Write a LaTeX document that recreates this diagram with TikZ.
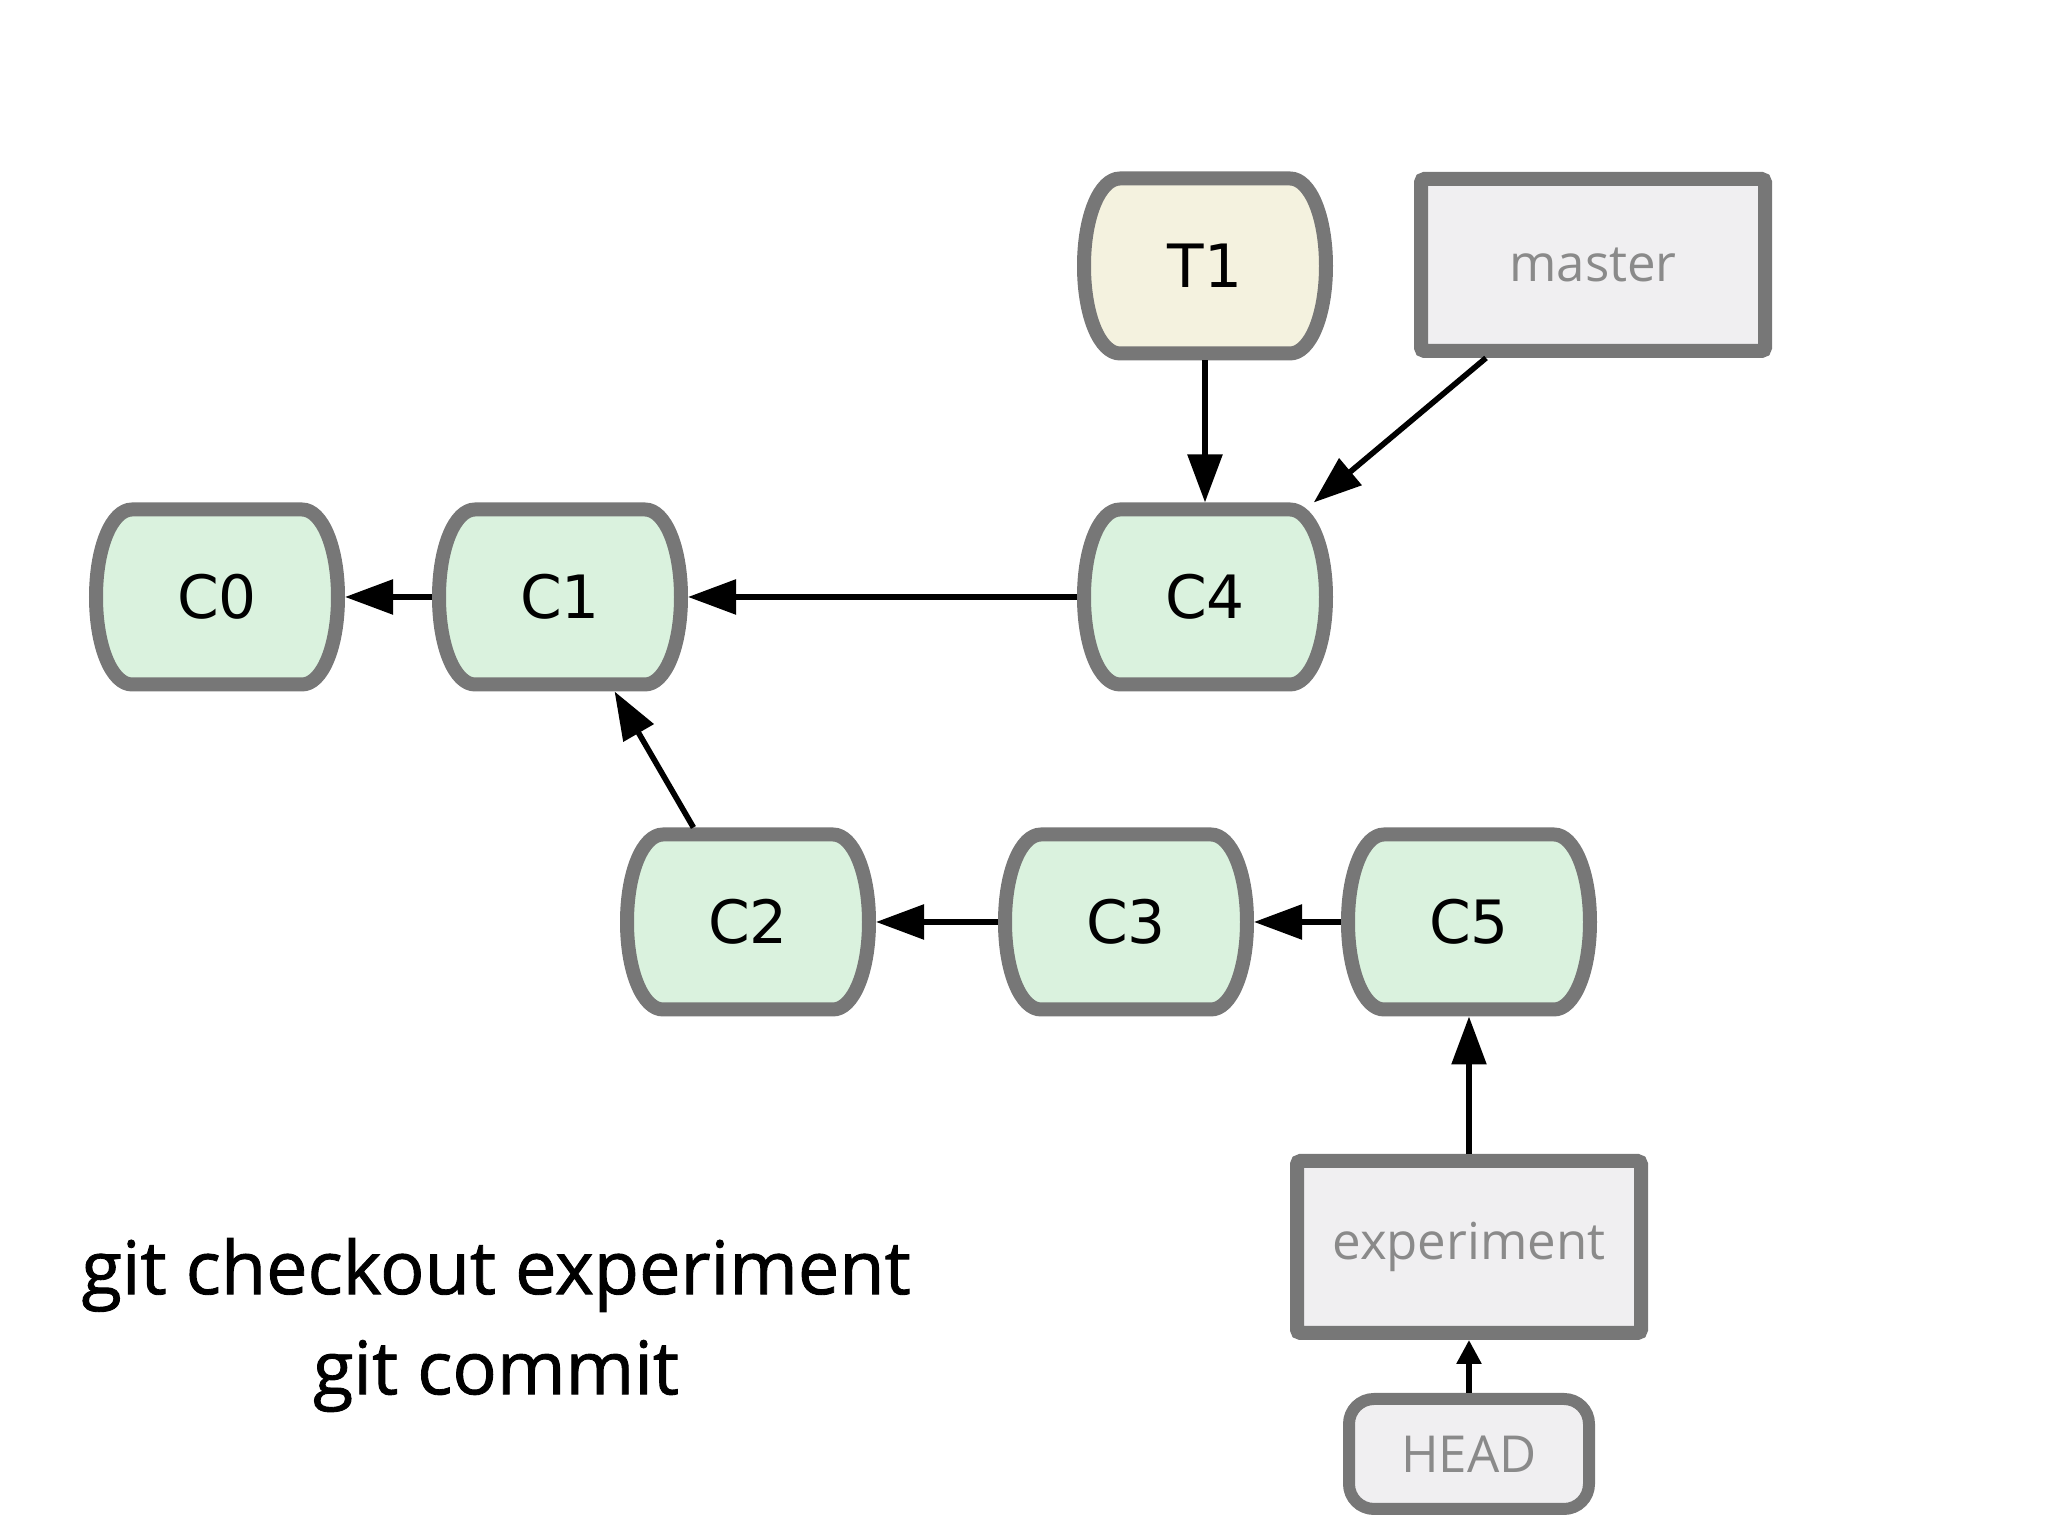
\documentclass[tikz,border=0pt]{standalone}
\usepackage{fontspec}
\setmainfont{DejaVu Sans}
\newfontfamily\gillfont{Open Sans}
\newfontfamily\cmdfont[FakeBold=1.2]{Open Sans}
\usetikzlibrary{arrows.meta}
\definecolor{commitgreen}{HTML}{DAF2DE}
\definecolor{treeyellow}{HTML}{F4F2DF}
\definecolor{reffill}{HTML}{F0EFF1}
\definecolor{edgegray}{HTML}{777777}
\definecolor{labelgray}{HTML}{8A8A8A}
\tikzset{
  commit/.style={minimum width=2.56cm, minimum height=1.89cm, inner sep=0pt, outer sep=0pt, font=\fontsize{17}{20}\selectfont},
  barrel/.style={draw=edgegray, line width=0.14cm, line join=round},
  branch/.style={draw=edgegray, fill=reffill, line width=0.14cm, minimum width=3.44cm, minimum height=1.72cm, rounded corners=1pt, text=labelgray, font=\gillfont\fontsize{14.5}{17}\selectfont},
  headbox/.style={draw=edgegray, fill=reffill, line width=0.12cm, minimum width=2.4cm, minimum height=1.1cm, rounded corners=0.25cm, text=labelgray, font=\gillfont\fontsize{14.5}{17}\selectfont},
  link/.style={-{Triangle[length=4.8mm,width=3.4mm]}, line width=1.6pt},
  smalllink/.style={-{Triangle[length=2.4mm,width=2.4mm]}, line width=1.6pt},
}
\begin{document}
\begin{tikzpicture}
\useasboundingbox (0,0) rectangle (20.48,15.36);
\foreach \name/\txt/\x/\y/\col in {c0/C0/2.17/9.39/commitgreen, c1/C1/5.60/9.39/commitgreen, c4/C4/12.05/9.39/commitgreen, t1/T1/12.05/12.70/treeyellow, c2/C2/7.48/6.14/commitgreen, c3/C3/11.26/6.14/commitgreen, c5/C5/14.69/6.14/commitgreen}{
  \draw[barrel, fill=\col, shift={(\x,\y)}] (-0.85,0.875) -- (0.85,0.875) .. controls (1.05,0.875) and (1.21,0.5) .. (1.21,0) .. controls (1.21,-0.5) and (1.05,-0.875) .. (0.85,-0.875) -- (-0.85,-0.875) .. controls (-1.05,-0.875) and (-1.21,-0.5) .. (-1.21,0) .. controls (-1.21,0.5) and (-1.05,0.875) .. cycle;
  \node[commit] (\name) at (\x,\y) {\txt};
}
\node[branch] (master) at (15.93,12.71) {master};
\node[branch] (experiment) at (14.69,2.89) {experiment};
\node[headbox] (head) at (14.69,0.82) {HEAD};
\node[align=center, font=\cmdfont\fontsize{21}{28.5}\selectfont] (cmd) at (4.96,2.11) {git checkout experiment\\git commit};

\draw[link] (c1.west) -- (c0.east);
\draw[link] (c4.west) -- (c1.east);
\draw[link] (t1.south) -- (c4.north);
\draw[link] (master.221) -- (c4.41);
\draw[link] (c2.120) -- (c1.-60);
\draw[link] (c3.west) -- (c2.east);
\draw[link] (c5.west) -- (c3.east);
\draw[link] (experiment.north) -- (c5.south);
\draw[smalllink] (head.north) -- (experiment.south);
\end{tikzpicture}
\end{document}
